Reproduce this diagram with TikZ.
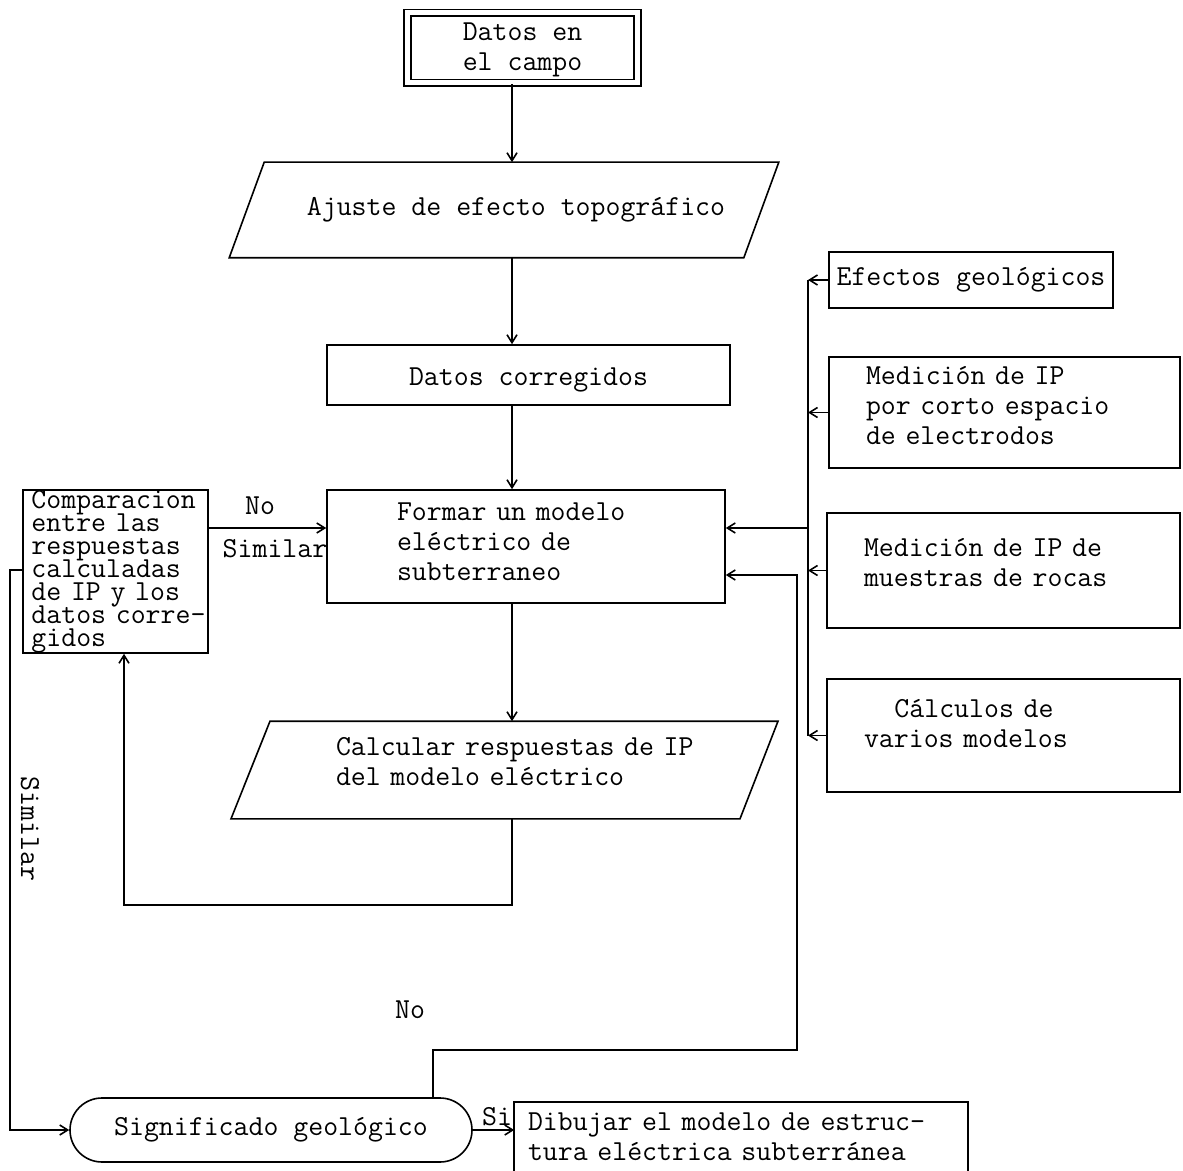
\documentclass[tikz,border=0pt]{standalone}
\usetikzlibrary{calc,arrows.meta}
\newcommand\diafont{\fontsize{14.5}{15}\selectfont\ttfamily}
\newcommand\compfont{\fontsize{14.5}{11.5}\selectfont\ttfamily\lineskiplimit=-20pt\lineskip=0pt}
\newcommand\liftup[2]{\raisebox{#1}[\height][\depth]{\begin{tabular}{@{}l@{}}#2\end{tabular}}}
\begin{document}
\begin{tikzpicture}[x=0.5pt,y=-0.5pt, line width=0.8pt,
  >={Straight Barb[length=4pt,width=5pt]},
  every node/.style={font=\diafont, inner sep=0pt},
  box/.style={draw, rectangle}]
\useasboundingbox (0,0) rectangle (1183,1171);
\coordinate (spine) at (512,0);
\coordinate (col) at (808,0);
\coordinate (xR) at (797,0);
\coordinate (xL) at (10,0);
\coordinate (xD) at (124,0);
\coordinate (xN) at (433,0);
\coordinate (yA) at (0,528);
\coordinate (yB) at (0,575);
\coordinate (yC) at (0,570);
\coordinate (yD) at (0,905);
\coordinate (yN) at (0,1050);

% main chain
\node[draw, double, double distance=2.5pt, minimum width=115pt, minimum height=35pt, align=center] (campo) at (522.5,48) {\liftup{-1pt}{Datos en\\el campo}};

\node[minimum width=256.5pt, minimum height=47pt] (aj) at (504,210) {\hspace*{12pt}Ajuste de efecto topográfico};
\draw ($(aj.north west)+(17.5,0)$) -- ($(aj.north east)+(17.5,0)$) -- ($(aj.south east)+(-17.5,0)$) -- ($(aj.south west)+(-17.5,0)$) -- cycle;

\node[box, minimum width=201.5pt, minimum height=30pt] (dc) at (528.5,375) {\liftup{-2.5pt}{Datos corregidos}};

\node[box, minimum height=56.5pt, text width=129pt, inner xsep=35pt, align=left] (formar) at (526,546.5) {\liftup{1pt}{Formar un modelo\\eléctrico de\\subterraneo}};

\node[minimum height=48pt, text width=190pt, align=left] (calc) at (526,770) {\liftup{3pt}{Calcular respuestas de IP\\del modelo eléctrico}};
\draw ($(calc.north)+(-256,0)$) -- ($(calc.north)+(252,0)$) -- ($(calc.south)+(214,0)$) -- ($(calc.south)+(-295,0)$) -- cycle;

\node[box, font=\compfont, minimum height=81.5pt, text width=84pt, inner xsep=4.25pt, align=left] (comp) at (115.5,571.5) {Comparacion\\entre las\\respuestas\\calculadas\\de IP y los\\\mbox{datos corre-}\\gidos};

\node[draw, rounded corners=16pt, minimum width=201pt, minimum height=32pt] (sig) at (271,1130) {Significado geológico};

\node[minimum height=34pt, text width=213pt, inner xsep=6.5pt, align=left] (dib) at (741,1137) {Dibujar el modelo de estruc-\\tura eléctrica subterránea};
\draw (dib.south west) -- (dib.north west) -- (dib.north east) -- (dib.south east);

% right column
\node[box, minimum width=142pt, minimum height=28pt] (efe) at (971,280) {Efectos geológicos};
\node[box, minimum height=55.5pt, text width=138.5pt, inner xsep=18.5pt, align=left] (cor) at (1004.5,412.5) {\liftup{2pt}{Medición de IP\\por corto espacio\\de electrodos}};
\node[box, minimum height=57.5pt, text width=139.5pt, inner xsep=18.5pt, align=left] (mue) at (1003.5,570.5) {\liftup{2.5pt}{Medición de IP de\\muestras de rocas}};
\node[box, minimum height=56.5pt, text width=139.5pt, inner xsep=18.5pt, align=left] (cal2) at (1003.5,735.5) {\liftup{4.5pt}{\hspace*{1.05em}Cálculos de\\varios modelos}};

% connectors
\draw[->] (campo.south -| spine) -- (aj.north -| spine);
\draw[->] (aj.south -| spine) -- (dc.north -| spine);
\draw[->] (dc.south -| spine) -- (formar.north -| spine);
\draw[->] (formar.south -| spine) -- (calc.north -| spine);

\draw (efe.west -| col) -- (cal2.west -| col);
\foreach \n in {efe,cor,mue,cal2} \draw[->] (\n.west) -- (\n.west -| col);
\draw[->] (col |- yA) -- (formar.east |- yA);

\draw[->] (comp.east |- yA) -- (formar.west |- yA);
\node at (260,506) {No};
\node at (275,549) {Similar};

\draw[->] (comp.west |- yC) -- (xL |- yC) -- (xL |- sig.west) -- (sig.west);
\node[rotate=-90] at (30,829) {Similar};

\draw[->] (calc.south -| spine) -- (spine |- yD) -- (xD |- yD) -- (xD |- comp.south);

\draw[->] (sig.north -| xN) -- (xN |- yN) -- (xR |- yN) -- (xR |- yB) -- (formar.east |- yB);
\node at (410,1010) {No};

\draw[->] (sig.east) -- (sig.east -| dib.west);
\node at (497,1117) {Si};
\end{tikzpicture}
\end{document}
